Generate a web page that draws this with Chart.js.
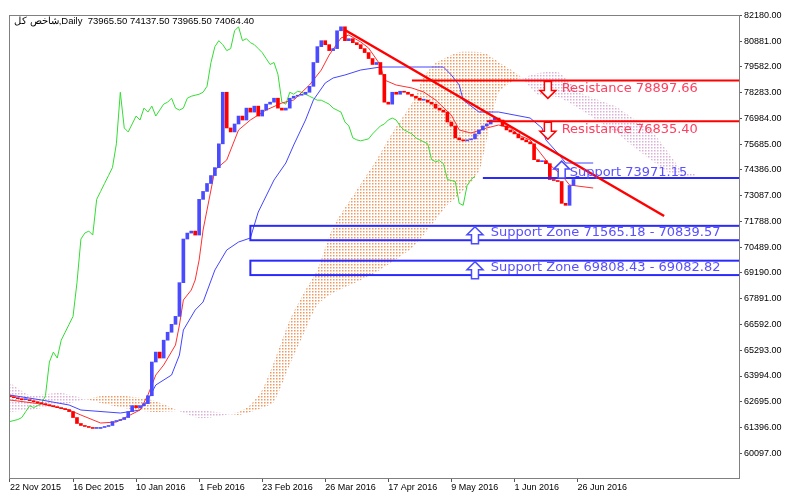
<!DOCTYPE html>
<html>
<head>
<meta charset="utf-8">
<script src="https://cdn.jsdelivr.net/npm/chart.js@4"></script>
<style>
  html, body { margin: 0; padding: 0; background: #fff; }
  #wrap { width: 800px; height: 499px; position: relative; }
</style>
</head>
<body>
<div id="wrap"><canvas id="chart"></canvas></div>
<script>
// Daily candles, index 0 = 22 Nov 2015, one slot per trading day
const CLOSES = [
  62950, 62900, 62850, 62800, 62800, 62750, 62700, 62650, 62600, 62550,
  62500, 62450, 62400, 62350, 62300, 62200, 61900, 61600, 61500, 61450,
  61400, 61350, 61350, 61400, 61450, 61500, 61700, 61750, 61800, 61900,
  62200, 62500, 62400, 62500, 62600, 63000, 64700, 65200, 64900, 65800,
  66200, 66600, 67000, 68700, 70900, 71200, 71300, 71100, 72900, 73300,
  73700, 74100, 74500, 75700, 78300, 76500, 76300, 76700, 77100, 76900,
  77500, 77300, 77600, 77100, 77400, 77700, 77800, 78000, 77500, 77400,
  77500, 78000, 78100, 78150, 78200, 78300, 78600, 79800, 80600, 80900,
  80700, 80400, 80500, 81400, 81600, 80900, 81000, 80800, 80700, 80500,
  80300, 80000, 79700, 79800, 79200, 77800, 77700, 78300, 78200, 78350,
  78300, 78200, 78100, 78000, 77900, 77900, 77800, 77700, 77500, 77400,
  77300, 76800, 76600, 76000, 75900, 75850, 75900, 75950, 76200, 76400,
  76600, 76700, 76900, 77000, 76900, 76600, 76400, 76300, 76200, 76000,
  75900, 75800, 75700, 74900, 74800, 74850, 74700, 73900, 73850, 73800,
  72700, 72600, 73600, 73900, 74064.4
];
const FIRST_OPEN = 63000;
const LAST_OPEN = 73965.5;

// Tenkan-sen (red) and Kijun-sen (blue), read at bar indices
const TENKAN_X = [0, 8, 15, 18, 23, 27, 29, 33, 35, 37, 39, 42, 43, 44, 46, 47, 48, 49, 52, 55, 57, 58, 61, 65, 69, 72, 76, 79, 81, 84, 86, 89, 91, 94, 95, 98, 102, 105, 108, 112, 114, 117, 121, 124, 127, 129, 132, 135, 137, 140, 142, 148];
const TENKAN_Y = [62783, 62581, 62279, 62027, 61624, 61674, 61876, 62279, 63035, 64044, 64547, 65556, 66564, 67825, 68329, 68834, 69842, 71355, 74380, 74884, 75893, 76397, 76901, 77405, 77758, 77909, 78665, 79422, 80178, 81035, 81186, 80834, 80531, 79674, 78918, 78665, 78514, 78312, 77909, 77153, 76397, 76245, 76498, 76649, 76498, 76144, 75893, 75135, 74632, 74128, 73623, 73472];
const KIJUN_X = [0, 8, 15, 18, 28, 33, 35, 37, 41, 43, 44, 47, 49, 52, 55, 58, 61, 63, 67, 70, 72, 75, 77, 80, 82, 85, 89, 94, 110, 112, 114, 115, 119, 124, 132, 135, 136, 139, 141, 148];
const KIJUN_Y = [63035, 62783, 62531, 62279, 62128, 62279, 62783, 63540, 64044, 65052, 66312, 67321, 67724, 69338, 70346, 70749, 70951, 72262, 73876, 74733, 75640, 76901, 77909, 78766, 79019, 79170, 79422, 79573, 79573, 79170, 78665, 77909, 77304, 77304, 77001, 76497, 75893, 75237, 74733, 74733];
const CHIKOU_SHIFT = 26;

// Kumo cloud (Senkou span A / B), same x for both
const CLOUD_X = [0, 5, 13, 25, 36, 48, 58, 61, 64, 67, 71, 75, 78, 82, 88, 93, 97, 102, 105, 108, 111, 114, 119, 121, 124, 128, 130, 134, 139, 145, 150, 154, 158, 162, 167, 171, 174];
const SPAN_A = [62178, 62279, 62531, 63035, 62783, 61876, 62178, 62531, 63288, 64699, 66817, 68329, 69338, 71506, 73371, 74884, 76245, 77758, 79069, 79775, 80077, 80329, 80329, 80228, 79825, 79321, 79018, 78161, 78060, 77405, 76749, 76245, 75590, 74985, 74279, 74077, 74027];
const SPAN_B = [63640, 63035, 63136, 62531, 62178, 62279, 62027, 62178, 62380, 62682, 64548, 66312, 67573, 68178, 68733, 69237, 69741, 70447, 71102, 71859, 72615, 73119, 74279, 75892, 78262, 78917, 79018, 79270, 79321, 78262, 77858, 77556, 77001, 76548, 75287, 74228, 74228];

// Drawn objects
const TREND_X = [85, 166];
const TREND_Y = [81439, 72061];
const RES_LEVELS = [78897.66, 76835.40];
const RES_START = [102, 121];
const SUP_LEVEL = 73971.15;
const SUP_START = 120;
const ZONES = [[71565.18, 70839.57], [69808.43, 69082.82]];
const ZONE_START = 61;
const ARROW_RES_X = 136.5;
const ARROW_SUP_X = 140;
const ARROW_ZONE_X = 118;
const LABEL_X = 140;
const ZONE_LABEL_X = 122;

// Axis ticks
const Y_TICKS = [82180, 80881, 79582, 78283, 76984, 75685, 74386, 73087, 71788, 70489, 69190, 67891, 66592, 65293, 63994, 62695, 61396, 60097];
const X_TICKS = [0, 16, 32, 48, 64, 80, 96, 112, 128, 144];
const X_LABELS = ['22 Nov 2015', '16 Dec 2015', '10 Jan 2016', '1 Feb 2016', '23 Feb 2016', '26 Mar 2016', '17 Apr 2016', '9 May 2016', '1 Jun 2016', '26 Jun 2016'];
const HEADER = 'شاخص کل,Daily  73965.50 74137.50 73965.50 74064.40';

const RED = '#ff0000';
const BLUE = '#4a4aff';
const RES_TEXT = '#ff4060';
const SUP_TEXT = '#5a50ff';
const FONT = '"Liberation Sans", Arial, sans-serif';

function dotPattern(color) {
  const c = document.createElement('canvas');
  c.width = 3; c.height = 3;
  const g = c.getContext('2d');
  g.fillStyle = color;
  g.fillRect(0, 0, 1.5, 1.5);
  return g.createPattern(c, 'repeat');
}

const opens = CLOSES.map((c, i) => i === 0 ? FIRST_OPEN : (i === CLOSES.length - 1 ? LAST_OPEN : CLOSES[i - 1]));
const candleData = CLOSES.map((c, i) => ({ x: i, y: [opens[i], c] }));
const candleColors = CLOSES.map((c, i) => c >= opens[i] ? BLUE : RED);
const pts = (xs, ys) => xs.map((x, i) => ({ x: x, y: ys[i] }));
const chikou = CLOSES.map((c, i) => ({ x: i - CHIKOU_SHIFT, y: c })).filter(p => p.x >= 0);
const hline = (x0, v) => [{ x: x0, y: v }, { x: 185, y: v }];

function lineSet(data, color, width, order) {
  return { type: 'line', data: data, borderColor: color, borderWidth: width, pointRadius: 0, fill: false, tension: 0, order: order };
}

// Arrows, zone boxes and labels
const drawings = {
  id: 'drawings',
  afterDatasetsDraw(chart) {
    const { ctx, scales: { x, y } } = chart;
    const right = chart.chartArea.right;
    ctx.save();
    ctx.beginPath();
    ctx.rect(chart.chartArea.left, chart.chartArea.top, chart.chartArea.width, chart.chartArea.height);
    ctx.clip();

    function arrow(px, tip, dir, color) {
      // hollow arrow, dir -1 = up, 1 = down
      const h = 17, hw = 8, sw = 3.5, hh = 8;
      const base = tip - dir * h;
      const neck = tip - dir * hh;
      ctx.beginPath();
      ctx.moveTo(px, tip);
      ctx.lineTo(px - hw, neck);
      ctx.lineTo(px - sw, neck);
      ctx.lineTo(px - sw, base);
      ctx.lineTo(px + sw, base);
      ctx.lineTo(px + sw, neck);
      ctx.lineTo(px + hw, neck);
      ctx.closePath();
      ctx.fillStyle = '#fff';
      ctx.fill();
      ctx.strokeStyle = color;
      ctx.lineWidth = 1.5;
      ctx.stroke();
    }

    ctx.font = '13px "DejaVu Sans", sans-serif';
    ctx.textBaseline = 'middle';

    RES_LEVELS.forEach(v => {
      const py = y.getPixelForValue(v);
      arrow(x.getPixelForValue(ARROW_RES_X), py + 18, 1, RED);
      ctx.fillStyle = RES_TEXT;
      ctx.fillText('Resistance ' + v.toFixed(2), x.getPixelForValue(LABEL_X), py + 8);
    });

    const sy = y.getPixelForValue(SUP_LEVEL);
    arrow(x.getPixelForValue(ARROW_SUP_X), sy - 17, -1, BLUE);
    ctx.fillStyle = SUP_TEXT;
    ctx.fillText('Support ' + SUP_LEVEL.toFixed(2), x.getPixelForValue(LABEL_X) + 8, sy - 5);

    ZONES.forEach(z => {
      const y0 = y.getPixelForValue(z[0]);
      const y1 = y.getPixelForValue(z[1]);
      const x0 = x.getPixelForValue(ZONE_START);
      ctx.strokeStyle = '#2a2aff';
      ctx.lineWidth = 2;
      ctx.strokeRect(x0, y0, right + 10 - x0, y1 - y0);
      arrow(x.getPixelForValue(ARROW_ZONE_X), y0 + 1, -1, BLUE);
      ctx.fillStyle = SUP_TEXT;
      ctx.fillText('Support Zone ' + z[0].toFixed(2) + ' - ' + z[1].toFixed(2), x.getPixelForValue(ZONE_LABEL_X), (y0 + y1) / 2);
    });
    ctx.restore();

    ctx.save();
    ctx.font = '9.5px ' + FONT;
    ctx.fillStyle = '#000';
    ctx.textBaseline = 'middle';
    ctx.fillText(HEADER, chart.chartArea.left + 5, chart.chartArea.top + 6);
    ctx.restore();
  }
};

const ctx = document.getElementById('chart').getContext('2d');
const orangeDots = dotPattern('#f09860');
const pinkDots = dotPattern('#dcb0d6');

new Chart(ctx, {
  type: 'bar',
  data: {
    datasets: [
      {
        type: 'line', data: pts(CLOUD_X, SPAN_A), borderWidth: 0, borderColor: 'transparent', pointRadius: 0,
        tension: 0.2, fill: { target: '+1', above: orangeDots, below: pinkDots }, order: 20
      },
      { type: 'line', data: pts(CLOUD_X, SPAN_B), borderWidth: 0, borderColor: 'transparent', pointRadius: 0, tension: 0.2, fill: false, order: 21 },
      lineSet(chikou, '#33dd33', 1, 5),
      lineSet(pts(KIJUN_X, KIJUN_Y), '#4444ff', 1, 4),
      lineSet(pts(TENKAN_X, TENKAN_Y), '#ff3030', 1, 3),
      {
        type: 'bar', data: candleData, backgroundColor: candleColors, barThickness: 3,
        minBarLength: 1, order: 2
      },
      lineSet(hline(RES_START[0], RES_LEVELS[0]), RED, 2, 1),
      lineSet(hline(RES_START[1], RES_LEVELS[1]), RED, 2, 1),
      lineSet(hline(SUP_START, SUP_LEVEL), '#2a2aff', 2, 1),
      lineSet(pts(TREND_X, TREND_Y), RED, 2.5, 0)
    ]
  },
  options: {
    responsive: true,
    maintainAspectRatio: false,
    animation: false,
    layout: { padding: { left: 9, top: 15, right: 0, bottom: 0 } },
    plugins: { legend: { display: false }, tooltip: { enabled: false } },
    scales: {
      x: {
        type: 'linear', min: -0.25, max: 185, offset: false,
        afterBuildTicks: s => { s.ticks = X_TICKS.map(v => ({ value: v })); },
        afterFit: s => { s.height = 21; },
        ticks: {
          autoSkip: false, maxRotation: 0, align: 'start', padding: 0,
          font: { size: 9, family: FONT }, color: '#000',
          callback: v => X_LABELS[X_TICKS.indexOf(v)]
        },
        grid: { drawOnChartArea: false, drawTicks: true, tickLength: 4, color: '#555', offset: false },
        border: { color: '#808080', width: 1 }
      },
      y: {
        position: 'right', min: 58852, max: 82195,
        afterBuildTicks: s => { s.ticks = Y_TICKS.map(v => ({ value: v })); },
        afterFit: s => { s.width = 61; },
        ticks: {
          padding: 2, font: { size: 9, family: FONT }, color: '#000',
          callback: v => v.toFixed(2)
        },
        grid: { drawOnChartArea: false, drawTicks: true, tickLength: 3, color: '#555' },
        border: { color: '#808080', width: 1 }
      }
    }
  },
  plugins: [drawings, {
    id: 'frame',
    afterDraw(chart) {
      const a = chart.chartArea, c = chart.ctx;
      c.save();
      c.strokeStyle = '#808080';
      c.lineWidth = 1;
      c.strokeRect(a.left + 0.5, a.top + 0.5, a.width, a.height);
      c.restore();
    }
  }]
});
</script>
</body>
</html>
